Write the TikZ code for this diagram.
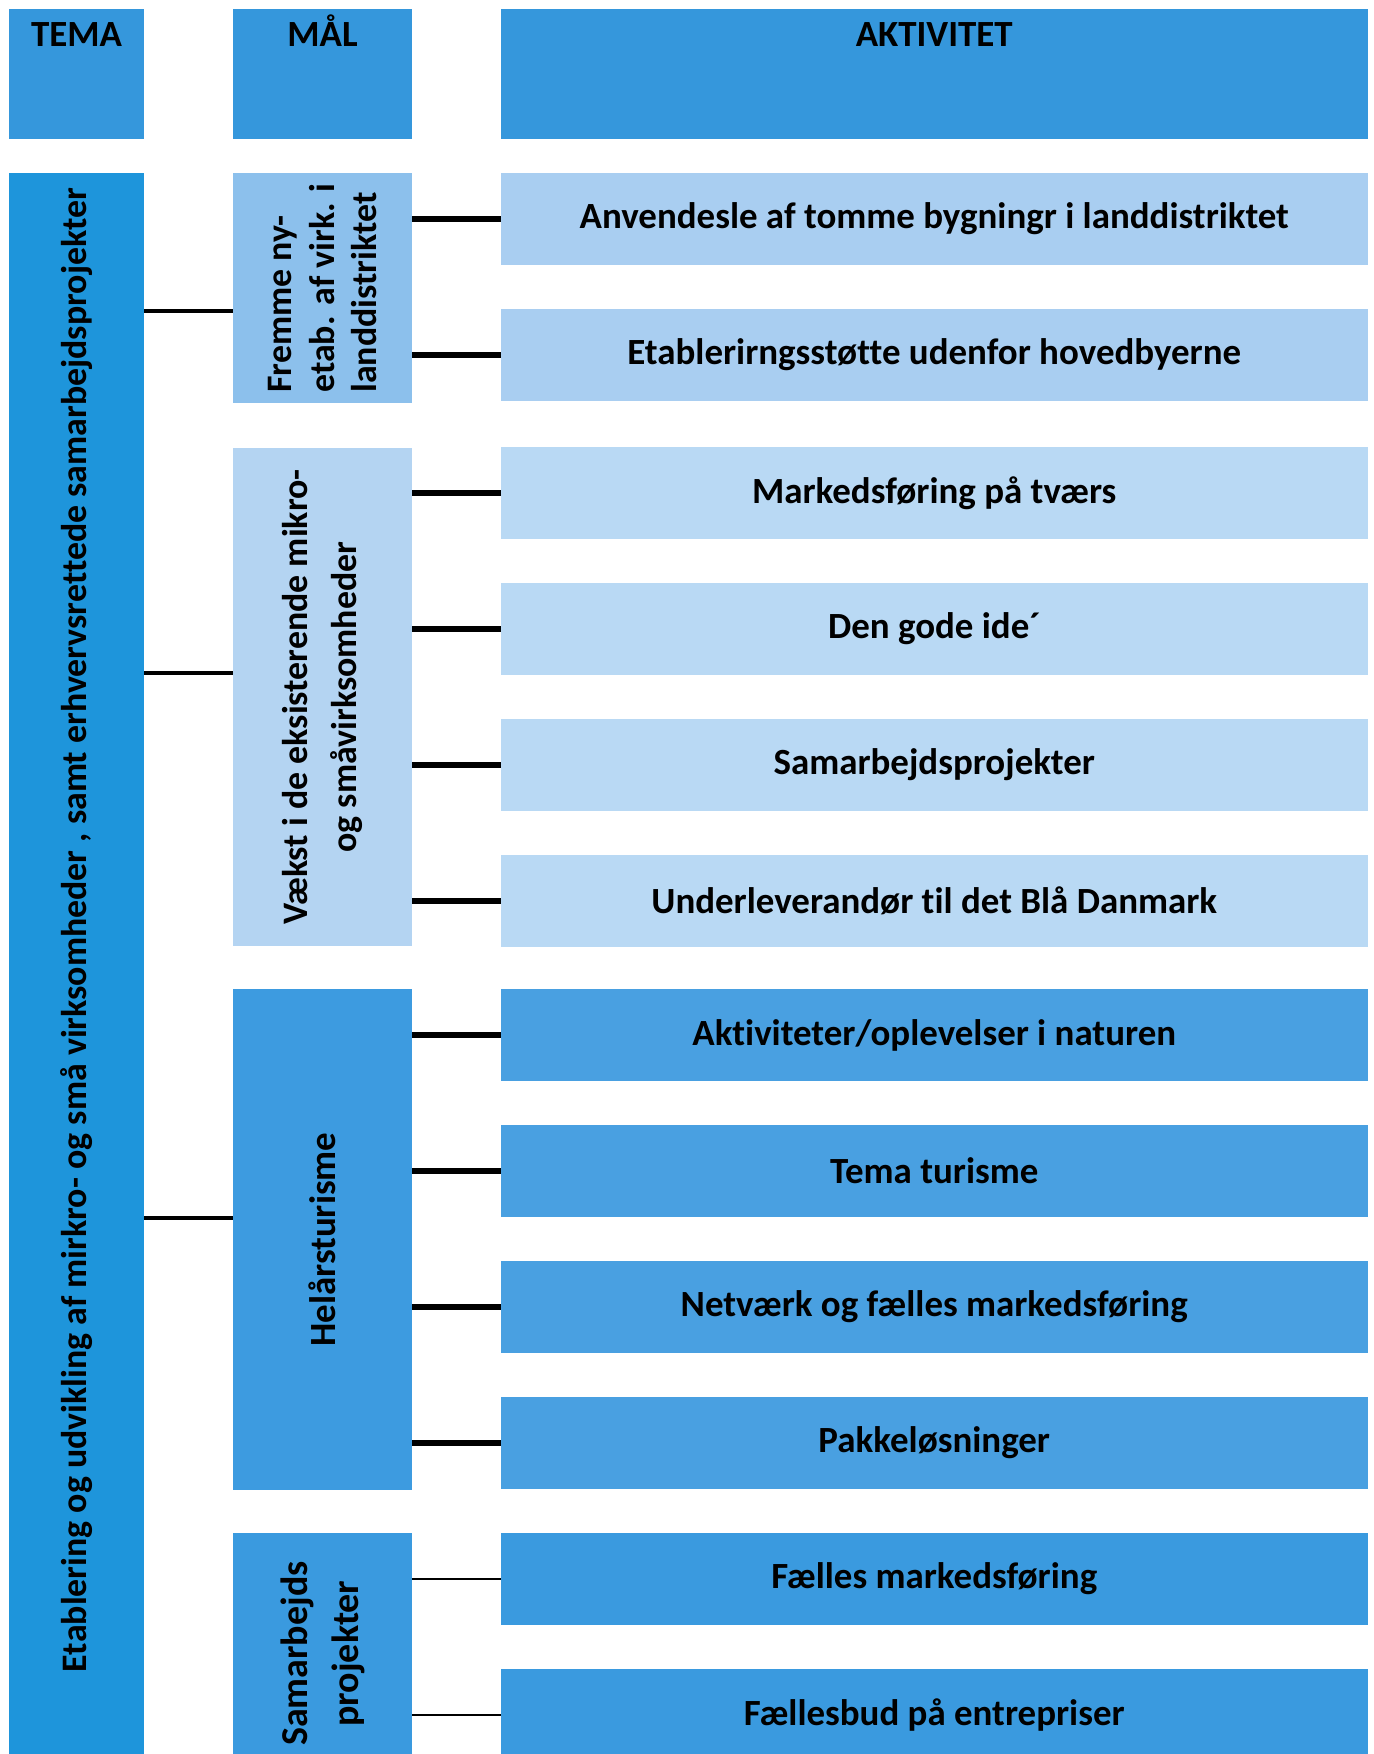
\documentclass[tikz,border=0pt]{standalone}
\usepackage{fontspec}
\setmainfont{Carlito}[Ligatures=NoCommon]
\usetikzlibrary{positioning}

\definecolor{topblue}{HTML}{3597DC}
\definecolor{temablue}{HTML}{1E95DB}
\definecolor{fremblue}{HTML}{8CC0EC}
\definecolor{fremact}{HTML}{A9CEF1}
\definecolor{vaekstblue}{HTML}{B4D4F2}
\definecolor{vaekstact}{HTML}{B9D9F4}
\definecolor{turblue}{HTML}{3D9BE0}
\definecolor{turact}{HTML}{49A0E1}
\definecolor{samblue}{HTML}{3A9ADF}

\newcommand{\actfont}{\bfseries\fontsize{10.5}{12.6}\selectfont}
\newcommand{\maalfont}{\bfseries\fontsize{10.2}{12.2}\selectfont}

\tikzset{
  blk/.style={anchor=north west, inner sep=0pt, outer sep=0pt},
  maalbox/.style={blk, minimum width=1.79cm},
  actbox/.style={blk, minimum width=8.66cm, minimum height=0.92cm, font=\actfont},
  vtext/.style={rotate=90, inner sep=0pt, font=\maalfont},
  link/.style={line width=1.6pt},
  thinlink/.style={line width=0.8pt},
  temalink/.style={line width=1.2pt}
}

\begin{document}
\begin{tikzpicture}[x=0.01cm, y=-0.01cm]
\useasboundingbox (0,0) rectangle (1374,1754);

% header row
\node[blk, fill=topblue, minimum width=1.35cm, minimum height=1.30cm] (htema) at (9,9) {};
\node[blk, fill=topblue, minimum width=1.79cm, minimum height=1.30cm] (hmaal) at (233,9) {};
\node[blk, fill=topblue, minimum width=8.66cm, minimum height=1.30cm] (hakt) at (501,9) {};
\node[anchor=base, font=\actfont] (htematxt) at ([yshift=-0.37cm]htema.north) {TEMA};
\node[anchor=base, font=\actfont] (hmaaltxt) at ([yshift=-0.37cm]hmaal.north) {MÅL};
\node[anchor=base, font=\actfont] (hakttxt) at ([yshift=-0.37cm]hakt.north) {AKTIVITET};

% tema
\node[blk, fill=temablue, minimum width=1.35cm, minimum height=15.81cm] (tema) at (9,173) {};
\node[vtext] (tematxt) at ([yshift=0.34cm]tema.center) {Etablering og udvikling af mirkro- og små virksomheder , samt erhvervsrettede samarbejdsprojekter};

% maal
\node[maalbox, fill=fremblue, minimum height=2.30cm] (m1) at (233,173) {};
\node[vtext, align=left] (m1txt) at (m1.center) {Fremme ny-\\etab. af virk. i\\landdistriktet};
\node[maalbox, fill=vaekstblue, minimum height=4.98cm] (m2) at (233,448) {};
\node[vtext, align=center, font=\bfseries\fontsize{10.2}{14}\selectfont] (m2txt) at (m2.center) {Vækst i de eksisterende mikro-\\og småvirksomheder};
\node[maalbox, fill=turblue, minimum height=5.01cm] (m3) at (233,989) {};
\node[vtext, font=\bfseries\fontsize{10.5}{12.6}\selectfont] (m3txt) at (m3.center) {Helårsturisme};
\node[maalbox, fill=samblue, minimum height=2.21cm] (m4) at (233,1533) {};
\node[vtext, align=center, font=\bfseries\fontsize{10.8}{14.5}\selectfont] (m4txt) at ([yshift=-0.1cm]m4.center) {Samarbejds\\projekter};

% aktiviteter
\node[actbox, fill=fremact] (a1) at (501,173) {Anvendesle af tomme bygningr i landdistriktet};
\node[actbox, fill=fremact] (a2) at (501,309) {Etablerirngsstøtte udenfor hovedbyerne};
\node[actbox, fill=vaekstact] (a3) at (501,447) {Markedsføring på tværs};
\node[actbox, fill=vaekstact] (a4) at (501,583) {Den gode ide´};
\node[actbox, fill=vaekstact] (a5) at (501,719) {Samarbejdsprojekter};
\node[actbox, fill=vaekstact] (a6) at (501,855) {Underleverandør til det Blå Danmark};
\node[actbox, fill=turact] (a7) at (501,989) {Aktiviteter/oplevelser i naturen};
\node[actbox, fill=turact] (a8) at (501,1125) {Tema turisme};
\node[actbox, fill=turact] (a9) at (501,1261) {Netværk og fælles markedsføring};
\node[actbox, fill=turact] (a10) at (501,1397) {Pakkeløsninger};
\node[actbox, fill=samblue] (a11) at (501,1533) {Fælles markedsføring};
\node[actbox, fill=samblue] (a12) at (501,1669) {Fællesbud på entrepriser};

% tema -> maal
\coordinate (t1) at (144,311);
\coordinate (t2) at (144,673);
\coordinate (t3) at (144,1218);
\draw[temalink] (t1) -- (t1 -| m1.west);
\draw[temalink] (t2) -- (t2 -| m2.west);
\draw[temalink] (t3) -- (t3 -| m3.west);

% maal -> aktivitet
\draw[link] (m1.east |- a1) -- (a1.west);
\draw[link] (m1.east |- a2) -- (a2.west);
\draw[link] (m2.east |- a3) -- (a3.west);
\draw[link] (m2.east |- a4) -- (a4.west);
\draw[link] (m2.east |- a5) -- (a5.west);
\draw[link] (m2.east |- a6) -- (a6.west);
\draw[link] (m3.east |- a7) -- (a7.west);
\draw[link] (m3.east |- a8) -- (a8.west);
\draw[link] (m3.east |- a9) -- (a9.west);
\draw[link] (m3.east |- a10) -- (a10.west);
\draw[thinlink] (m4.east |- a11) -- (a11.west);
\draw[thinlink] (m4.east |- a12) -- (a12.west);
\end{tikzpicture}
\end{document}
